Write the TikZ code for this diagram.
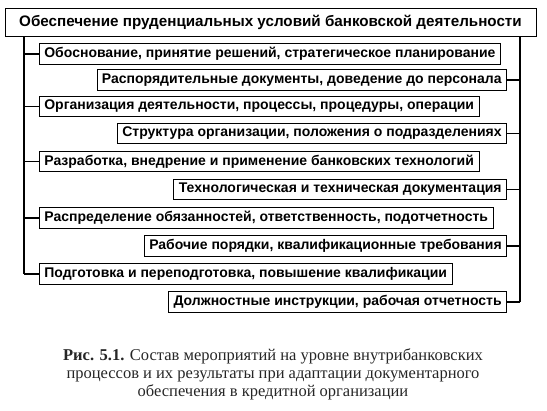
\documentclass[tikz,border=0pt]{standalone}
\usepackage{fontspec}
\setmainfont{Liberation Serif}
\setsansfont{Liberation Sans}
\usetikzlibrary{positioning}

\tikzset{
  itembox/.style={draw, line width=0.7pt, inner xsep=5pt, inner ysep=0pt, minimum height=20.5pt, font=\sffamily\bfseries\fontsize{14}{15}\selectfont},
  leftbox/.style={itembox, anchor=west},
  rightbox/.style={itembox, anchor=east},
  busline/.style={line width=1.6pt},
  stubline/.style={line width=1.2pt}
}

\begin{document}
\begin{tikzpicture}[x=1pt,y=1pt,yscale=-1]
\useasboundingbox (0,0) rectangle (547,411);

%Title box
\node[draw, line width=1pt, minimum width=531pt, minimum height=28pt, inner sep=0pt, font=\sffamily\bfseries\fontsize{15.2}{16}\selectfont] (title) at (270.5,22.5) {Обеспечение пруденциальных условий банковской деятельности};

%Left boxes
\node[leftbox] (obosn) at (39,54) {Обоснование, принятие решений, стратегическое планирование};
\node[leftbox] (organ) at (39,106.5) {Организация деятельности, процессы, процедуры, операции};
\node[leftbox] (razrab) at (39,161.5) {Разработка, внедрение и применение банковских технологий};
\node[leftbox] (raspr) at (39,218) {Распределение обязанностей, ответственность, подотчетность};
\node[leftbox] (podgot) at (39,274) {Подготовка и переподготовка, повышение квалификации};

%Right boxes
\node[rightbox] (rasp) at (507,80) {Распорядительные документы, доведение до персонала};
\node[rightbox] (strukt) at (507,133.5) {Структура организации, положения о подразделениях};
\node[rightbox] (tehn) at (507,189.5) {Технологическая и техническая документация};
\node[rightbox] (rabpor) at (507,246) {Рабочие порядки, квалификационные требования};
\node[rightbox] (dolzh) at (507,302) {Должностные инструкции, рабочая отчетность};

%Bus lines
\coordinate (lbus) at (24,0);
\coordinate (rbus) at (520,0);
\draw[busline] (lbus |- title.south) -- (lbus |- podgot.west);
\draw[busline] (rbus |- title.south) -- (rbus |- dolzh.east);

%Stubs
\draw[stubline] (lbus |- obosn.west) -- (obosn.west);
\draw[stubline] (lbus |- organ.west) -- (organ.west);
\draw[stubline] (lbus |- razrab.west) -- (razrab.west);
\draw[stubline] (lbus |- raspr.west) -- (raspr.west);
\draw[stubline] (lbus |- podgot.west) -- (podgot.west);
\draw[stubline] (rbus |- rasp.east) -- (rasp.east);
\draw[stubline] (rbus |- strukt.east) -- (strukt.east);
\draw[stubline] (rbus |- tehn.east) -- (tehn.east);
\draw[stubline] (rbus |- rabpor.east) -- (rabpor.east);
\draw[stubline] (rbus |- dolzh.east) -- (dolzh.east);

%Caption
\node[align=center, text=black!85, font=\fontsize{16.5}{18}\selectfont] (caption) at (273,374) {\textbf{Рис. 5.1.} Состав мероприятий на уровне внутрибанковских\\процессов и их результаты при адаптации документарного\\обеспечения в кредитной организации};
\end{tikzpicture}
\end{document}
